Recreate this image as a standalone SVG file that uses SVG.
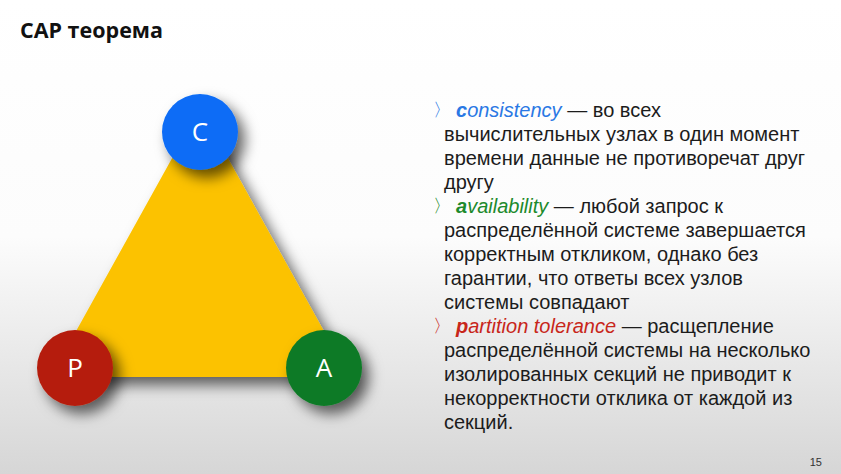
<svg xmlns="http://www.w3.org/2000/svg" width="841" height="474" viewBox="0 0 841 474">
<style>
.t{font-family:"Liberation Sans",Arial,sans-serif;font-size:20px;fill:#1c1c1c}
.ch{font-family:"Liberation Sans",Arial,sans-serif;font-size:18px}
.lbl{font-family:"Open Sans","Liberation Sans",sans-serif;font-size:26px;fill:#ffffff;text-anchor:middle}
.kw{font-style:italic}
.b{font-weight:bold}
</style>
<defs>
<linearGradient id="bg" x1="0" y1="0" x2="0" y2="1">
<stop offset="0" stop-color="#ffffff"/>
<stop offset="0.5" stop-color="#fcfcfc"/>
<stop offset="1" stop-color="#d6d6d6"/>
</linearGradient>
<filter id="sh" x="-30%" y="-30%" width="160%" height="160%">
<feDropShadow dx="7" dy="8" stdDeviation="7" flood-color="#000" flood-opacity="0.6"/>
</filter>
</defs>
<rect width="841" height="474" fill="url(#bg)"/>
<text x="20" y="38" font-family="'Open Sans','Liberation Sans',sans-serif" font-weight="bold" font-size="21.5" fill="#111">CAP теорема</text>
<g id="connectors">
<path id="triangle" d="M200 112 L346 375 L54 375 Z" fill="#fcc200" stroke="#fcc200" stroke-width="4" stroke-linejoin="round" filter="url(#sh)"/>
</g>
<g id="node-C"><circle cx="200" cy="132" r="38" fill="#0a6cf6" filter="url(#sh)"/><text class="lbl" x="200" y="141">C</text></g>
<g id="node-P"><circle cx="75" cy="368" r="38" fill="#b51f0b" filter="url(#sh)"/><text class="lbl" x="75" y="377">P</text></g>
<g id="node-A"><circle cx="324" cy="368" r="38" fill="#0a7a25" filter="url(#sh)"/><text class="lbl" x="324" y="377">A</text></g>
<g id="text">
<text class="ch" x="433" y="116" fill="#2a78e4">〉</text>
<text class="t" x="456" y="117"><tspan class="kw" fill="#2a78e4"><tspan class="b">c</tspan>onsistency</tspan> — во всех</text>
<text class="t" x="444" y="141">вычислительных узлах в один момент</text>
<text class="t" x="444" y="165">времени данные не противоречат друг</text>
<text class="t" x="444" y="189">другу</text>
<text class="ch" x="433" y="212" fill="#1d8a2c">〉</text>
<text class="t" x="456" y="213"><tspan class="kw" fill="#1d8a2c"><tspan class="b">a</tspan>vailability</tspan> — любой запрос к</text>
<text class="t" x="444" y="237">распределённой системе завершается</text>
<text class="t" x="444" y="261">корректным откликом, однако без</text>
<text class="t" x="444" y="285">гарантии, что ответы всех узлов</text>
<text class="t" x="444" y="309">системы совпадают</text>
<text class="ch" x="433" y="332" fill="#c8261a">〉</text>
<text class="t" x="456" y="333"><tspan class="kw" fill="#c8261a"><tspan class="b">p</tspan>artition tolerance</tspan> — расщепление</text>
<text class="t" x="444" y="357">распределённой системы на несколько</text>
<text class="t" x="444" y="381">изолированных секций не приводит к</text>
<text class="t" x="444" y="405">некорректности отклика от каждой из</text>
<text class="t" x="444" y="429">секций.</text>
</g>
<text x="822" y="466" text-anchor="end" font-family="'Liberation Sans',sans-serif" font-size="11" fill="#333">15</text>
</svg>
